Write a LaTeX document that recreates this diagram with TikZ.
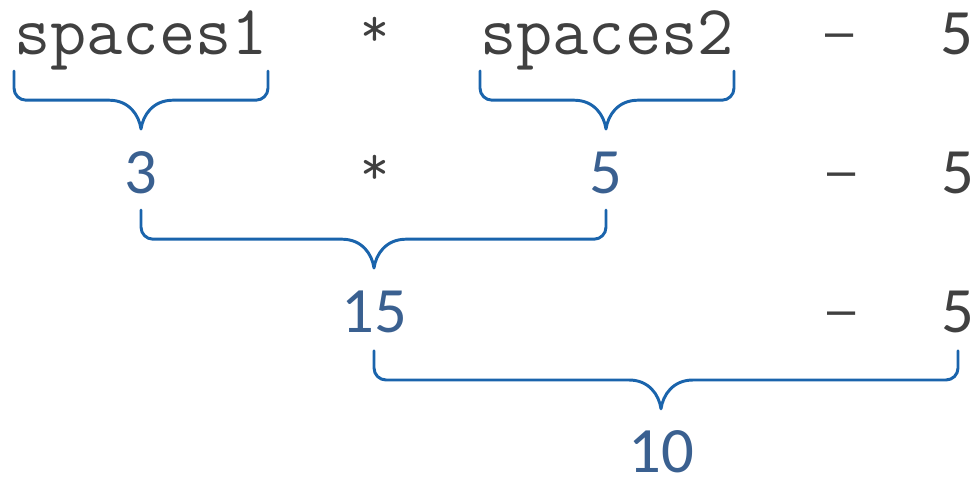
\documentclass[tikz,border=0pt]{standalone}
\usepackage{fontspec}
\newfontfamily\numfont{Carlito}
\newfontfamily\opfont{Liberation Sans}
\usetikzlibrary{calc}

\definecolor{exprgray}{RGB}{64,64,64}
\definecolor{valblue}{RGB}{58,96,144}
\definecolor{brcblue}{RGB}{26,100,172}

% brace under two anchors, tip over the result node
\newcommand{\grp}[3]{%
  \draw[brc] let \p1=(#1), \p2=(#2), \p3=(#3.base) in
    ({\x1},{\y3+3.05cm}) -- ({\x1},{\y3+2.62cm})
    arc[start angle=180, end angle=270, radius=0.3cm]
    -- ({\x3-0.8cm},{\y3+2.32cm})
    .. controls ({\x3-0.3cm},{\y3+2.32cm}) and ({\x3-0.05cm},{\y3+1.95cm}) .. ({\x3},{\y3+1.6cm})
    .. controls ({\x3+0.05cm},{\y3+1.95cm}) and ({\x3+0.3cm},{\y3+2.32cm}) .. ({\x3+0.8cm},{\y3+2.32cm})
    -- ({\x2-0.3cm},{\y3+2.32cm})
    arc[start angle=270, end angle=360, radius=0.3cm]
    -- ({\x2},{\y3+3.05cm});
}

\begin{document}
\begin{tikzpicture}[
  expr/.style={font=\ttfamily\fontsize{50}{50}\selectfont, text=exprgray, inner sep=0pt, anchor=base},
  star/.style={font=\ttfamily\fontsize{40}{40}\selectfont, text=exprgray, inner sep=0pt, anchor=base, yshift=0.2cm},
  minussign/.style={font=\opfont\fontsize{36}{36}\selectfont, text=exprgray, inner sep=0pt, anchor=base, yshift=0.15cm},
  opr/.style={font=\numfont\fontsize{46}{46}\selectfont, text=exprgray, inner sep=0pt, anchor=base},
  val/.style={font=\numfont\fontsize{46}{46}\selectfont, text=valblue, inner sep=0pt, anchor=base},
  brc/.style={draw=brcblue, line width=2.1pt, line cap=round, line join=round}
]
\useasboundingbox (0,0) rectangle (24.475,12);

% row 1
\node[expr] (s1) at (3.525,10.625) {spaces1};
\node[star] (times1) at (9.375,10.625) {*};
\node[expr] (s2) at (15.175,10.625) {spaces2};
\node[minussign] (minus1) at (21.0,10.625) {–};
\node[opr] (five1) at (23.925,10.625) {5};

% row 2
\node[val] (v3) at (3.525,7.175) {3};
\node[star] (times2) at (9.375,7.175) {*};
\node[val] (v5) at (15.15,7.175) {5};
\node[minussign] (minus2) at (21.05,7.175) {–};
\node[opr] (five2) at (23.95,7.175) {5};

% row 3
\node[val] (v15) at (9.35,3.7) {15};
\node[minussign] (minus3) at (21.05,3.7) {–};
\node[opr] (five3) at (23.95,3.7) {5};

% row 4
\node[val] (v10) at (16.525,0.18) {10};

\grp{s1.base west}{s1.base east}{v3}
\grp{s2.base west}{s2.base east}{v5}
\grp{v3.base}{v5.base}{v15}
\grp{v15.base}{five3.base}{v10}
\end{tikzpicture}
\end{document}
